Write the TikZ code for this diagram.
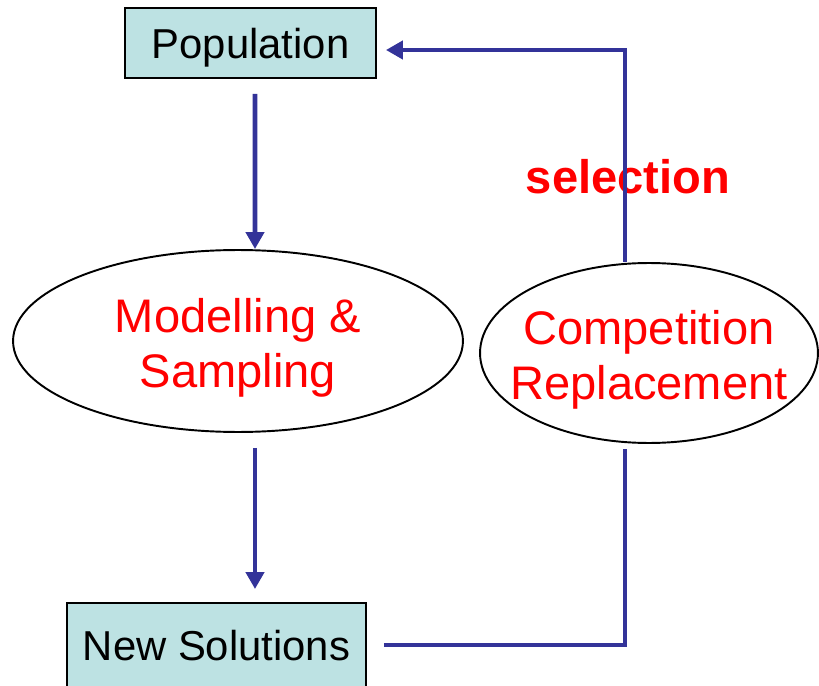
\documentclass[tikz,border=0pt]{standalone}
\usepackage{fontspec}
\setmainfont{Liberation Sans}
\usetikzlibrary{arrows.meta,shapes.geometric}
\definecolor{boxfill}{RGB}{189,226,227}
\definecolor{flowblue}{RGB}{51,51,153}

\begin{document}
\begin{tikzpicture}[x=0.02cm,y=-0.02cm,
  stage/.style={draw=black,line width=1.1pt,fill=boxfill,inner sep=0pt,text depth=0pt,
    font=\fontsize{23.8}{28}\selectfont},
  oper/.style={ellipse,draw=black,line width=1.1pt,inner sep=0pt,text=red,
    align=center,text height=2.08cm,text depth=0.2cm,
    font=\fontsize{26.8}{31.8}\selectfont},
  flow/.style={flowblue,line width=2.8pt,-{Triangle[width=0.36cm,length=0.34cm]}},
  back/.style={flowblue,line width=2.8pt}]
 \clip (0,0) rectangle (819,686);
 % boxes and operators
 \node[stage,minimum width=5.02cm,minimum height=1.4cm] (pop) at (250.5,43) {Population};
 \node[oper,minimum width=9cm,minimum height=3.64cm] (model) at (238,341) {Modelling \&\\Sampling};
 \node[oper,inner xsep=-0.4cm,minimum width=6.76cm,minimum height=3.6cm] (comp) at (649,353) {Competition\\Replacement};
 \node[stage,minimum width=5.98cm,minimum height=1.68cm] (new) at (216.5,645) {New Solutions};
 \node[text=red,font=\bfseries\fontsize{26.8}{31.8}\selectfont] (sel) at (628,177) {selection};
 % loop corners
 \coordinate (loopbot) at (625,645);
 \coordinate (looptop) at (625,50);
 % forward flow
 \draw[flow] ([xshift=0.09cm,yshift=-0.3cm]pop.south) -- ([xshift=0.34cm]model.north);
 \draw[flow] ([xshift=0.34cm,yshift=-0.3cm]model.south) -- ([xshift=0.34cm,yshift=0.26cm]model.south |- new.north);
 % back to the population
 \draw[back] ([xshift=0.34cm]new.east) -- (loopbot) -- ([yshift=-0.1cm]loopbot |- comp.south);
 \draw[flow] (looptop |- comp.north) -- (looptop) -- ([xshift=0.18cm]pop.east |- looptop);
\end{tikzpicture}
\end{document}
